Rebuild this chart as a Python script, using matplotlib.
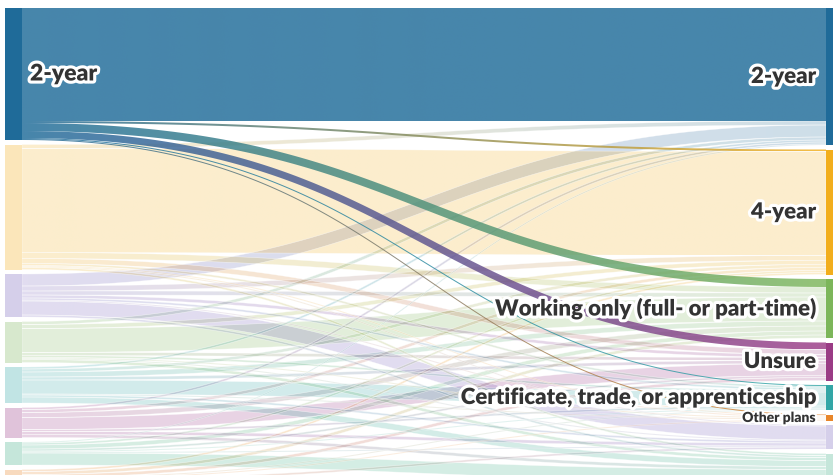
import matplotlib
matplotlib.use("Agg")
import matplotlib.pyplot as plt
import matplotlib.patheffects as pe
from matplotlib.patches import Polygon, Rectangle
from matplotlib.colors import to_rgb
import numpy as np

# plans at the first survey (left) and at the second survey (right)
sources = ["2-year", "4-year", "Military", "Working only (full- or part-time)",
           "Certificate, trade, or apprenticeship", "Unsure", "Not sure yet", "Other plans"]
targets = ["2-year", "4-year", "Working only (full- or part-time)", "Unsure",
           "Certificate, trade, or apprenticeship", "Other plans", "Military", "Not sure yet"]

colors = {
    "2-year": "#1f6b99",
    "4-year": "#f2ae1c",
    "Working only (full- or part-time)": "#7cb65a",
    "Unsure": "#9a3b85",
    "Certificate, trade, or apprenticeship": "#33a6a6",
    "Other plans": "#e8862a",
    "Military": "#7763bb",
    "Not sure yet": "#3fae85",
}

# flows[i][j]: students moving from sources[i] to targets[j] (estimated)
flows = np.array([
    [113, 2, 8, 7, 1, 1, 0, 0],
    [4, 104, 6, 5, 2, 1, 1, 2],
    [12, 5, 4, 3, 2, 1, 14, 2],
    [3, 4, 24, 3, 2, 1, 1, 3],
    [2, 3, 5, 3, 14, 1, 2, 6],
    [2, 3, 5, 12, 2, 0, 3, 3],
    [1, 2, 4, 2, 1, 0, 1, 12],
    [0, 2, 3, 3, 1, 1, 2, 10],
])

highlight = "2-year"
right_labels = ["2-year", "4-year", "Working only (full- or part-time)", "Unsure",
                "Certificate, trade, or apprenticeship", "Other plans"]

W, H = 833, 475
top = 8
pad = 4.5
xl0, xl1 = 5, 22
xr0, xr1 = 826, 845

fig = plt.figure(figsize=(W / 100, H / 100), dpi=100)
ax = fig.add_axes([0, 0, 1, 1])
ax.set_xlim(0, W)
ax.set_ylim(H, 0)
ax.axis("off")

# node positions
left_h = flows.sum(axis=1)
right_h = flows.sum(axis=0)
left_y = top + np.concatenate([[0], np.cumsum(left_h + pad)[:-1]])
right_y = top + np.concatenate([[0], np.cumsum(right_h + pad)[:-1]])

# link offsets inside nodes
src_off = left_y.copy().astype(float)
tgt_off = right_y.copy().astype(float)
links = []
for i in range(len(sources)):
    for j in range(len(targets)):
        v = flows[i, j]
        if v <= 0:
            continue
        links.append((i, j, v, src_off[i], None))
        src_off[i] += v
links2 = []
for j in range(len(targets)):
    for (i, jj, v, sy, _) in links:
        if jj != j:
            continue
        links2.append((i, j, v, sy, tgt_off[j]))
        tgt_off[j] += v


def band(x0, x1, y0, y1, w, n=160):
    t = np.linspace(0, 1, n)
    xm = (x0 + x1) / 2
    px = (1 - t) ** 3 * x0 + 3 * (1 - t) ** 2 * t * xm + 3 * (1 - t) * t ** 2 * xm + t ** 3 * x1
    py = (1 - t) ** 3 * y0 + 3 * (1 - t) ** 2 * t * y0 + 3 * (1 - t) * t ** 2 * y1 + t ** 3 * y1
    dx = 3 * (1 - t) ** 2 * (xm - x0) + 3 * t ** 2 * (x1 - xm)
    dy = 6 * (1 - t) * t * (y1 - y0)
    nrm = np.hypot(dx, dy)
    nx, ny = -dy / nrm, dx / nrm
    topc = np.column_stack([px + nx * w / 2, py + ny * w / 2])
    botc = np.column_stack([px - nx * w / 2, py - ny * w / 2])
    return np.vstack([topc, botc[::-1]])


def draw_link(i, j, v, sy, ty, alpha, edge):
    c0 = np.array(to_rgb(colors[sources[i]]))
    c1 = np.array(to_rgb(colors[targets[j]]))
    poly = band(xl1, xr0, sy + v / 2, ty + v / 2, v)
    patch = Polygon(poly, closed=True, facecolor="none", edgecolor="none")
    ax.add_patch(patch)
    t = np.linspace(0, 1, 64)[:, None]
    grad = np.ones((1, 64, 4))
    grad[0, :, :3] = c0 * (1 - t) + c1 * t
    grad[0, :, 3] = alpha
    ymin, ymax = poly[:, 1].min(), poly[:, 1].max()
    im = ax.imshow(grad, extent=(xl1, xr0, ymax, ymin), aspect="auto",
                   interpolation="bilinear", zorder=2 if alpha < 0.5 else 4)
    im.set_clip_path(patch)
    if edge:
        ax.add_patch(Polygon(poly, closed=True, facecolor="none", edgecolor="white",
                             lw=0.4, alpha=0.6, zorder=3))


hi = sources.index(highlight)
for (i, j, v, sy, ty) in links2:
    if i != hi:
        draw_link(i, j, v, sy, ty, 0.22, True)
for (i, j, v, sy, ty) in links2:
    if i == hi:
        draw_link(i, j, v, sy, ty, 0.82, False)

# nodes
for i, name in enumerate(sources):
    a = 1.0 if name == highlight else 0.3
    ax.add_patch(Rectangle((xl0, left_y[i]), xl1 - xl0, left_h[i],
                           color=colors[name], alpha=a, lw=0, zorder=5))
for j, name in enumerate(targets):
    a = 1.0 if name in right_labels else 0.3
    ax.add_patch(Rectangle((xr0, right_y[j]), xr1 - xr0, right_h[j],
                           color=colors[name], alpha=a, lw=0, zorder=5))

halo = [pe.withStroke(linewidth=4.5, foreground="white")]
ax.text(30, left_y[hi] + left_h[hi] / 2, highlight, ha="left", va="center",
        fontsize=16.5, fontweight="heavy", family="Lato", color="#333333",
        path_effects=halo, zorder=6)
for j, name in enumerate(targets):
    if name not in right_labels:
        continue
    fs = 10 if name == "Other plans" else 16
    ax.text(816, right_y[j] + right_h[j] / 2, name, ha="right", va="center",
            fontsize=fs, fontweight="heavy", family="Lato", color="#333333",
            path_effects=halo if fs > 12 else [pe.withStroke(linewidth=3, foreground="white")],
            zorder=6)

ax.set_xlim(0, W)
ax.set_ylim(H, 0)
fig.savefig("out.png", dpi=100)
